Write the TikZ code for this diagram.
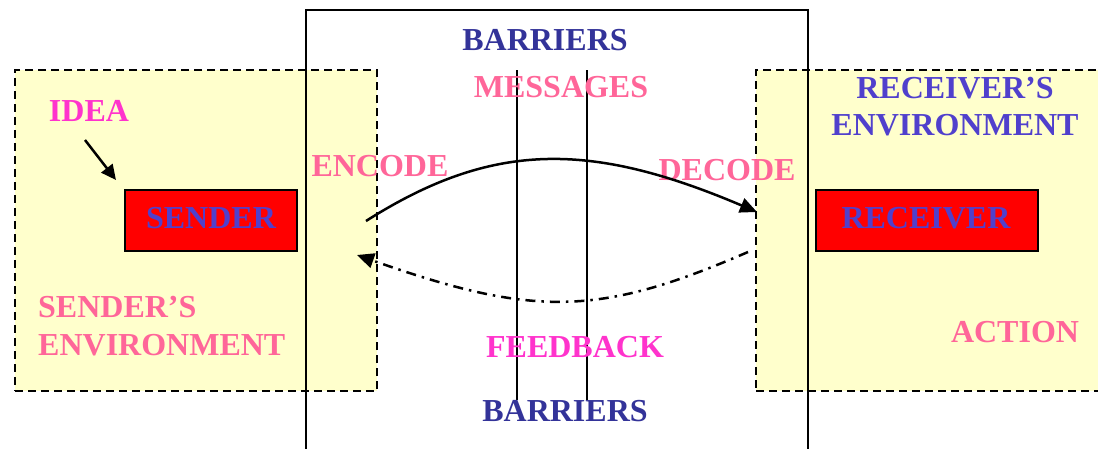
\documentclass[tikz,border=0pt]{standalone}
\usepackage{fontspec}
\setmainfont{Liberation Serif}
\usetikzlibrary{arrows.meta}

\definecolor{envyellow}{HTML}{FFFFCC}
\definecolor{boxred}{HTML}{FF0000}
\definecolor{barrierblue}{HTML}{333399}
\definecolor{actorblue}{HTML}{5040CC}
\definecolor{stagepink}{HTML}{FF6699}
\definecolor{cuemagenta}{HTML}{FF33CC}

\tikzset{
  label font/.style={font=\fontsize{32}{38}\selectfont\bfseries, inner sep=0pt, anchor=base},
  envbox/.style={draw, fill=envyellow, line width=2pt, dash pattern=on 8pt off 5pt, inner sep=0pt},
  actorbox/.style={draw, fill=boxred, line width=2pt, inner sep=0pt},
  barrierline/.style={line width=2pt},
  flow/.style={line width=2.5pt, -{Triangle[length=17pt, width=15pt]}},
  feedbackflow/.style={line width=2.5pt, dash pattern=on 10pt off 6pt on 2.5pt off 6pt,
                       -{Triangle[length=17pt, width=15pt]}},
}

\begin{document}
\begin{tikzpicture}[x=1pt, y=-1pt]
  \useasboundingbox (0,0) rectangle (1098,448);
  \clip (0,0) rectangle (1098,448);

  % environments of the two parties
  \node[envbox, minimum width=362pt, minimum height=321pt] (senderenv) at (196,230.5) {};
  \node[envbox, minimum width=354pt, minimum height=321pt] (receiverenv) at (933,230.5) {};

  % the channel with its barriers
  \node[draw, line width=2pt, inner sep=0pt, minimum width=502pt, minimum height=460pt]
       (channel) at (557,240) {};
  \coordinate (barAtop) at (517,70);
  \coordinate (barAbot) at (517,400);
  \coordinate (barBtop) at (587,70);
  \coordinate (barBbot) at (587,400);
  \draw[barrierline] (barAtop) -- (barAbot);
  \draw[barrierline] (barBtop) -- (barBbot);

  % sender and receiver
  \node[actorbox, minimum width=172pt, minimum height=61pt] (senderbox) at (211,220.5) {};
  \node[actorbox, minimum width=222pt, minimum height=61pt] (receiverbox) at (927,220.5) {};

  % labels
  \node[label font, text=barrierblue] (barriersTop) at (545,50) {BARRIERS};
  \node[label font, text=stagepink] (messages) at (561,97) {MESSAGES};
  \node[label font, text=stagepink] (encode) at (380,176) {ENCODE};
  \node[label font, text=stagepink] (decode) at (727,180) {DECODE};
  \node[label font, text=cuemagenta] (feedback) at (575,357) {FEEDBACK};
  \node[label font, text=barrierblue] (barriersBot) at (565,421) {BARRIERS};
  \node[label font, text=cuemagenta] (idea) at (89,121) {IDEA};
  \node[label font, text=actorblue] (sender) at (211,228) {SENDER};
  \node[label font, text=actorblue] (receiver) at (926,228) {RECEIVER};
  \node[label font, text=stagepink, anchor=base west] (senderenvA) at (38,317) {SENDER’S};
  \node[label font, text=stagepink, anchor=base west] (senderenvB) at (38,355) {ENVIRONMENT};
  \node[label font, text=actorblue] (receiverenvA) at (955,98) {RECEIVER’S};
  \node[label font, text=actorblue] (receiverenvB) at (955,135) {ENVIRONMENT};
  \node[label font, text=stagepink] (action) at (1015,342) {ACTION};

  % idea feeding the sender
  \coordinate (ideaFrom) at (85,140);
  \coordinate (ideaTo) at (116,180);
  \draw[line width=2.5pt, -{Triangle[length=15pt, width=14pt]}] (ideaFrom) -- (ideaTo);

  % message path and feedback path
  \coordinate (encodeOut) at (366,221);
  \coordinate (decodeIn) at (757,212);
  \coordinate (feedbackOut) at (748,252);
  \coordinate (feedbackIn) at (357,255);
  \draw[flow] (encodeOut) .. controls (492,141) and (590,141) .. (decodeIn);
  \draw[feedbackflow] (feedbackOut) .. controls (598,317) and (533,317) .. (feedbackIn);
\end{tikzpicture}
\end{document}
